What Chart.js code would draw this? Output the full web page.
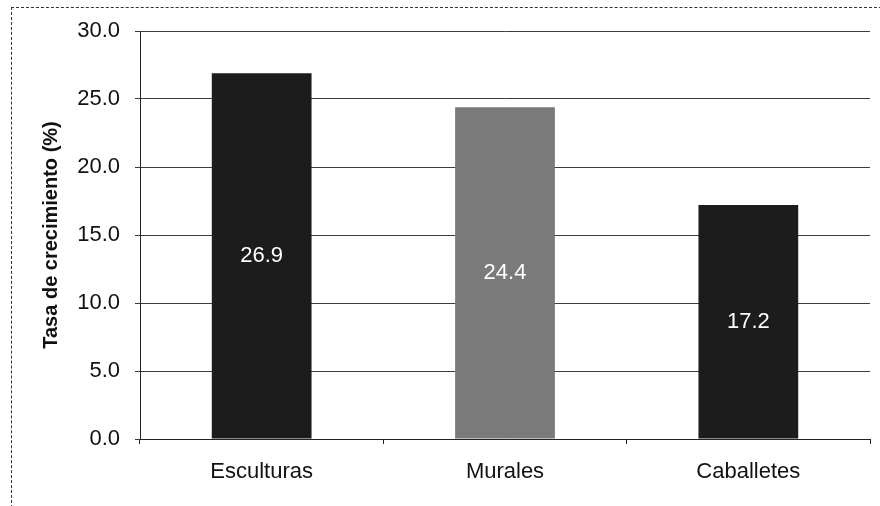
<!DOCTYPE html>
<html>
<head>
<meta charset="utf-8">
<script src="https://cdn.jsdelivr.net/npm/chart.js@4/dist/chart.umd.min.js"></script>
<style>
  html, body { margin: 0; padding: 0; background: #fff; }
  #wrap { position: relative; width: 880px; height: 506px; }
  #frame {
    position: absolute; left: 11px; top: 7px; right: -2px; bottom: -2px;
    border-left: 1px dashed #333; border-top: 1px dashed #333;
    pointer-events: none;
  }
  canvas { position: absolute; left: 0; top: 0; }
</style>
</head>
<body>
<div id="wrap">
  <canvas id="chart" width="880" height="506"></canvas>
  <div id="frame"></div>
</div>
<script>
// ---------- data ----------
const categories = ["Esculturas", "Murales", "Caballetes"];
const growthRates = [26.9, 24.4, 17.2];
const barColors = ["#1c1c1c", "#7a7a7a", "#1c1c1c"];
const yTicks = [0, 5, 10, 15, 20, 25, 30];
const yTitle = "Tasa de crecimiento (%)";

const FONT = "Arial, 'Liberation Sans', sans-serif";

// value labels in the middle of each bar
const barLabels = {
  id: "barLabels",
  afterDatasetsDraw(chart) {
    const ctx = chart.ctx;
    const meta = chart.getDatasetMeta(0);
    ctx.save();
    ctx.fillStyle = "#fff";
    ctx.font = "22px " + FONT;
    ctx.textAlign = "center";
    ctx.textBaseline = "middle";
    meta.data.forEach((bar, i) => {
      const mid = (bar.y + bar.base) / 2;
      ctx.fillText(growthRates[i].toFixed(1), bar.x, mid);
    });
    ctx.restore();
  },
};

new Chart(document.getElementById("chart"), {
  type: "bar",
  data: {
    labels: categories,
    datasets: [{
      data: growthRates,
      backgroundColor: barColors,
      borderWidth: 0,
      categoryPercentage: 0.41,
      barPercentage: 1,
    }],
  },
  options: {
    responsive: false,
    animation: false,
    layout: { padding: { top: 31, right: 10, left: 0, bottom: 0 } },
    plugins: {
      legend: { display: false },
      tooltip: { enabled: false },
    },
    scales: {
      x: {
        afterFit(scale) { scale.height = 67; },
        grid: { drawOnChartArea: false, offset: true, tickLength: 5, color: "#222" },
        border: { color: "#222", width: 1 },
        ticks: { color: "#111", padding: 15, font: { family: FONT, size: 22 } },
      },
      y: {
        min: 0,
        max: 30,
        afterFit(scale) { scale.width = 140; },
        afterBuildTicks(scale) { scale.ticks = yTicks.map((v) => ({ value: v })); },
        grid: { color: "#3c3c3c", tickLength: 5 },
        border: { color: "#222", width: 1 },
        ticks: {
          color: "#111",
          padding: 15,
          font: { family: FONT, size: 22 },
          callback: (v) => Number(v).toFixed(1),
        },
        title: {
          display: true,
          text: yTitle,
          color: "#111",
          padding: { top: 39, bottom: 0 },
          font: { family: FONT, size: 20, weight: "bold" },
        },
      },
    },
  },
  plugins: [barLabels],
});
</script>
</body>
</html>
